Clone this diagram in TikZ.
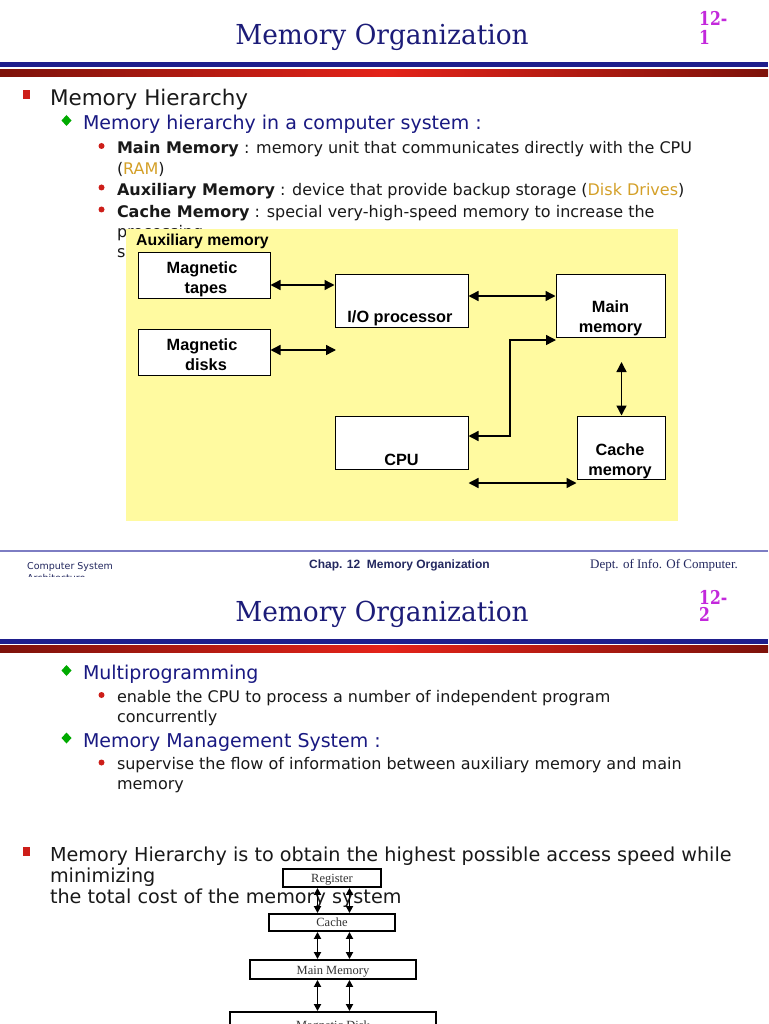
\documentclass[tikz,border=0pt]{standalone}
\usepackage{fontspec}
\setmainfont{DejaVu Sans}
\newfontfamily\titlefont{DejaVu Serif}
\newfontfamily\arialf{Liberation Sans}
\newfontfamily\timesf{Liberation Serif}
\usetikzlibrary{arrows.meta}
\definecolor{navy}{RGB}{28,28,120}
\definecolor{pnum}{RGB}{195,40,220}
\definecolor{barblue}{RGB}{30,30,140}
\definecolor{dred}{RGB}{125,18,10}
\definecolor{bred}{RGB}{228,35,25}
\definecolor{bulred}{RGB}{205,30,25}
\definecolor{bulgreen}{RGB}{0,170,0}
\definecolor{subblue}{RGB}{25,25,130}
\definecolor{bodytext}{RGB}{25,25,25}
\definecolor{gold}{RGB}{212,160,40}
\definecolor{yell}{RGB}{255,250,160}
\definecolor{footline}{RGB}{125,125,195}
\definecolor{foottext}{RGB}{35,40,95}
\begin{document}
\begin{tikzpicture}[x=1pt,y=-1pt,
  ttl/.style={anchor=base, inner sep=0, text=navy, font=\titlefont\fontsize{27.5}{30}\selectfont},
  pn/.style={anchor=base west, inner sep=0, text=pnum, font=\titlefont\bfseries\fontsize{19}{22}\selectfont},
  txt/.style={anchor=base west, inner sep=0, outer sep=0},
  hone/.style={txt, font=\fontsize{21.5}{25}\selectfont, text=bodytext},
  hbig/.style={txt, font=\fontsize{19.2}{23}\selectfont, text=bodytext},
  htwo/.style={txt, font=\fontsize{19}{23}\selectfont, text=subblue},
  bodyt/.style={txt, font=\fontsize{16}{19}\selectfont, text=bodytext},
  dbox/.style={draw=black, line width=1, fill=white, inner sep=0},
  dlab/.style={anchor=base, inner sep=0, font=\arialf\bfseries\fontsize{16.3}{19}\selectfont},
  darr/.style={line width=1.4, {Triangle[length=10pt,width=10pt]}-{Triangle[length=10pt,width=10pt]}},
  hbox/.style={draw=black, line width=1.9, fill=white, inner sep=0},
  hlab/.style={anchor=base, inner sep=0, font=\timesf\fontsize{12.5}{14}\selectfont, text=black!80},
  harr/.style={line width=1.8, {Triangle[length=7pt,width=7pt]}-{Triangle[length=7pt,width=7pt]}},
  ftl/.style={anchor=base west, inner sep=0, text=foottext}
]
\useasboundingbox (0,0) rectangle (768,1024);
\fill[white] (0,0) rectangle (768,1024);

% ================= Slide 1 =================
\node[ttl] (title1) at (382,45) {\scalebox{0.96}[1]{Memory Organization}};
\node[pn] (pa1) at (699,26) {\scalebox{0.82}[1]{12-}};
\node[pn] (pb1) at (699,45) {\scalebox{0.82}[1]{1}};
\fill[barblue] (0,62.5) rectangle (768,67);
\shade[left color=dred, right color=bred] (0,69.5) rectangle (384.5,76.5);
\shade[left color=bred, right color=dred] (384,69.5) rectangle (768,76.5);

\fill[bulred] (23,90.5) rectangle (30,99.5);
\node[hone] (s1h) at (50,106) {Memory Hierarchy};
\fill[bulgreen] (66.5,115) -- (71.5,120.5) -- (66.5,126) -- (61.5,120.5) -- cycle;
\node[htwo] (s1s) at (83,130) {Memory hierarchy in a computer system :};

\fill[bulred] (101.5,146) circle (3pt);
\node[bodyt] (l1) at (117,154) {\textbf{Main Memory} : memory unit that communicates directly with the CPU};
\node[bodyt] (l2) at (117,175) {(\textcolor{gold}{RAM})};
\fill[bulred] (101.5,187.5) circle (3pt);
\node[bodyt] (l3) at (117,195.5) {\textbf{Auxiliary Memory} : device that provide backup storage (\textcolor{gold}{Disk Drives})};
\fill[bulred] (101.5,209.5) circle (3pt);
\node[bodyt] (l4) at (117,217.5) {\textbf{Cache Memory} : special very-high-speed memory to increase the};
\node[bodyt] (l5) at (117,237) {processing};
\node[bodyt] (l6) at (117,257.5) {speed};

% yellow panel
\fill[yell] (126,229) rectangle (678,521);
\node[anchor=base west, inner sep=0, font=\arialf\bfseries\fontsize{15.8}{18}\selectfont] (auxt) at (136,245) {Auxiliary memory};

\node[dbox, minimum width=132, minimum height=46] (tapes) at (204,275) {};
\node[dbox, minimum width=132, minimum height=46] (disks) at (204,352) {};
\node[dbox, minimum width=133, minimum height=53] (io) at (401.5,300.5) {};
\node[dbox, minimum width=109, minimum height=63] (mainm) at (610.5,305.5) {};
\node[dbox, minimum width=133, minimum height=53] (cpu) at (401.5,442.5) {};
\node[dbox, minimum width=88, minimum height=63] (cache) at (621,447.5) {};

\node[dlab] (tapesa) at (202,273.5) {Magnetic};
\node[dlab] (tapesb) at (206,293.5) {tapes};
\node[dlab] (disksa) at (202,350.5) {Magnetic};
\node[dlab] (disksb) at (206,370.5) {disks};
\node[dlab] (iot) at (400,322.5) {I/O processor};
\node[dlab] (maina) at (610.5,312.5) {Main};
\node[dlab] (mainb) at (610.5,332.5) {memory};
\node[dlab] (cput) at (401.5,465) {CPU};
\node[dlab] (cachea) at (620,455.5) {Cache};
\node[dlab] (cacheb) at (620,475.5) {memory};

\coordinate (y285) at (0,285);
\coordinate (y296) at (0,296);
\coordinate (y436) at (0,436);
\coordinate (y483) at (0,483);
\coordinate (dfree) at (336,350);
\coordinate (bend1) at (510,436);
\coordinate (bend2) at (510,340);
\coordinate (mainin) at (556,340);
\coordinate (mcfree) at (621.5,362);

\draw[darr] (tapes.east |- y285) -- (io.west |- y285);
\draw[darr] (disks.east |- dfree) -- (dfree);
\draw[darr] (io.east |- y296) -- (mainm.west |- y296);
\draw[darr] (cpu.east |- y436) -- (bend1) -- (bend2) -- (mainin);
\draw[darr] (mcfree) -- (cache.north -| mcfree);
\draw[darr] (cpu.east |- y483) -- (cache.west |- y483);

% footer slide 1
\draw[footline, line width=2.2] (0,551) -- (768,551);
\node[ftl, font=\fontsize{9.5}{11}\selectfont] (fa) at (27,569.5) {Computer System};
\node[ftl, font=\fontsize{9.5}{11}\selectfont] (fb) at (27,581) {Architecture};
\node[ftl, font=\arialf\bfseries\fontsize{12}{14}\selectfont] (fc) at (309,568.5) {Chap. 12 \ Memory Organization};
\node[ftl, font=\timesf\fontsize{13}{15}\selectfont] (fd) at (590,568.5) {Dept. of Info. Of Computer.};
\fill[white] (0,577) rectangle (300,590);

% ================= Slide 2 =================
\node[ttl] (title2) at (382,621.5) {\scalebox{0.96}[1]{Memory Organization}};
\node[pn] (pa2) at (699,604) {\scalebox{0.82}[1]{12-}};
\node[pn] (pb2) at (699,621.5) {\scalebox{0.82}[1]{2}};
\fill[barblue] (0,639) rectangle (768,643.5);
\shade[left color=dred, right color=bred] (0,645.5) rectangle (384.5,652.5);
\shade[left color=bred, right color=dred] (384,645.5) rectangle (768,652.5);

\fill[bulgreen] (66.5,665) -- (71.5,670.5) -- (66.5,676) -- (61.5,670.5) -- cycle;
\node[htwo] (m1) at (83,679.5) {Multiprogramming};
\fill[bulred] (101.5,695) circle (3pt);
\node[bodyt] (m2) at (117,702.5) {enable the CPU to process a number of independent program};
\node[bodyt] (m3) at (117,722) {concurrently};
\fill[bulgreen] (66.5,732.5) -- (71.5,738) -- (66.5,743.5) -- (61.5,738) -- cycle;
\node[htwo] (m4) at (83,747) {Memory Management System :};
\fill[bulred] (101.5,762.5) circle (3pt);
\node[bodyt] (m5) at (117,769.5) {supervise the flow of information between auxiliary memory and main};
\node[bodyt] (m6) at (117,789.5) {memory};

\fill[bulred] (23,847) rectangle (30,856);
\node[hbig] (b1) at (50,861) {Memory Hierarchy is to obtain the highest possible access speed while};
\node[hbig] (b2) at (50,882) {minimizing};
\node[hbig] (b3) at (50,903.5) {the total cost of the memory system};

% hierarchy
\node[hbox, minimum width=98, minimum height=18] (reg) at (332,878) {};
\node[hbox, minimum width=126, minimum height=17] (cbox) at (332,922.5) {};
\node[hbox, minimum width=166, minimum height=19] (mbox) at (333,969.5) {};
\node[hbox, minimum width=206, minimum height=36] (dbx) at (333,1030) {};
\node[hlab] (regt) at (332,882.5) {Register};
\node[hlab] (cboxt) at (332,926.5) {Cache};
\node[hlab] (mboxt) at (333,974) {Main Memory};
\node[hlab] (dbxt) at (333,1029.5) {Magnetic Disk};

\coordinate (hx1) at (317.5,0);
\coordinate (hx2) at (349.5,0);
\draw[harr] (reg.south -| hx1) -- (cbox.north -| hx1);
\draw[harr] (reg.south -| hx2) -- (cbox.north -| hx2);
\draw[harr] (cbox.south -| hx1) -- (mbox.north -| hx1);
\draw[harr] (cbox.south -| hx2) -- (mbox.north -| hx2);
\draw[harr] (mbox.south -| hx1) -- (dbx.north -| hx1);
\draw[harr] (mbox.south -| hx2) -- (dbx.north -| hx2);
\end{tikzpicture}
\end{document}
